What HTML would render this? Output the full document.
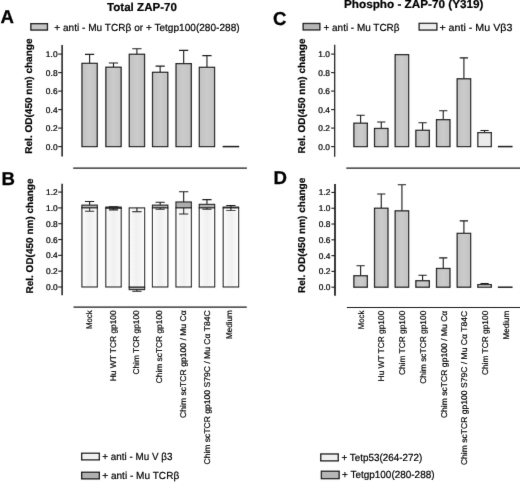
<!DOCTYPE html>
<html><head><meta charset="utf-8"><title>ZAP-70 figure</title>
<style>
html,body{margin:0;padding:0;background:#fff;}
svg{display:block;font-family:"Liberation Sans",sans-serif;text-rendering:geometricPrecision;}
.pl{font-size:187px;font-weight:bold;fill:#000;stroke:#000;stroke-width:3px;}
.tt{font-size:116px;font-weight:bold;fill:#000;stroke:#000;stroke-width:2px;}
.lg{font-size:103px;fill:#000;stroke:#000;stroke-width:2px;}
.tk{font-size:84px;fill:#000;stroke:#000;stroke-width:2.5px;}
.yl{font-size:99px;font-weight:bold;fill:#000;stroke:#000;stroke-width:2px;}
.xl{font-size:83.5px;fill:#000;stroke:#000;stroke-width:2px;}
</style></head><body>
<svg width="520" height="482" viewBox="0 0 520 482">
<defs>
<filter id="bl" x="0" y="0" width="520" height="482" filterUnits="userSpaceOnUse"><feConvolveMatrix order="3" kernelMatrix="0.0049 0.0602 0.0049 0.0602 0.7396 0.0602 0.0049 0.0602 0.0049" divisor="1" edgeMode="duplicate" preserveAlpha="false"/></filter>
<linearGradient id="wg" x1="0" x2="1" y1="0" y2="0"><stop offset="0" stop-color="#fdfdfd"/><stop offset="0.2" stop-color="#f6f6f6"/><stop offset="0.5" stop-color="#f0f0f0"/><stop offset="0.8" stop-color="#f6f6f6"/><stop offset="1" stop-color="#fdfdfd"/></linearGradient>
<linearGradient id="gg" x1="0" x2="1" y1="0" y2="0"><stop offset="0" stop-color="#c2c2c2"/><stop offset="0.5" stop-color="#cbcbcb"/><stop offset="1" stop-color="#c2c2c2"/></linearGradient>
</defs>
<rect width="520" height="482" fill="#fff"/>
<g filter="url(#bl)">
<text transform="translate(0.6 22.5) scale(0.1)" class="pl">A</text>
<text transform="translate(1.4 185) scale(0.1)" class="pl">B</text>
<text transform="translate(273.1 24.8) scale(0.1)" class="pl">C</text>
<text transform="translate(273.4 184.4) scale(0.1)" class="pl">D</text>
<text transform="translate(107 10.8) scale(0.1)" textLength="700" lengthAdjust="spacingAndGlyphs" class="tt">Total ZAP-70</text>
<text transform="translate(344 7.7) scale(0.1)" textLength="1395" lengthAdjust="spacingAndGlyphs" class="tt">Phospho - ZAP-70 (Y319)</text>
<rect x="30.88" y="23.68" width="16.55" height="6.35" fill="#c6c6c6" stroke="#1c1c1c" stroke-width="1.35"/>
<text transform="translate(54.3 30.6) scale(0.1)" textLength="1853" lengthAdjust="spacingAndGlyphs" class="lg">+ anti - Mu TCRβ or + Tetgp100(280-288)</text>
<rect x="303.18" y="23.48" width="16.65" height="6.45" fill="#b6b6b6" stroke="#1c1c1c" stroke-width="1.35"/>
<text transform="translate(323.5 30.6) scale(0.1)" textLength="760" lengthAdjust="spacingAndGlyphs" class="lg">+ anti - Mu TCRβ</text>
<rect x="419.18" y="23.38" width="17.65" height="6.65" fill="#ededed" stroke="#1c1c1c" stroke-width="1.35"/>
<text transform="translate(439.4 30.6) scale(0.1)" textLength="730" lengthAdjust="spacingAndGlyphs" class="lg">+ anti - Mu Vβ3</text>
<line x1="62.1" y1="45" x2="62.1" y2="156.5" stroke="#1c1c1c" stroke-width="1.5"/>
<line x1="58.2" y1="146.6" x2="62.1" y2="146.6" stroke="#1c1c1c" stroke-width="1.1"/>
<text transform="translate(57.55 149.6) scale(0.1)" text-anchor="end" class="tk">0.0</text>
<line x1="58.2" y1="128.1" x2="62.1" y2="128.1" stroke="#1c1c1c" stroke-width="1.1"/>
<text transform="translate(57.55 131.1) scale(0.1)" text-anchor="end" class="tk">0.2</text>
<line x1="58.2" y1="109.6" x2="62.1" y2="109.6" stroke="#1c1c1c" stroke-width="1.1"/>
<text transform="translate(57.55 112.6) scale(0.1)" text-anchor="end" class="tk">0.4</text>
<line x1="58.2" y1="91.1" x2="62.1" y2="91.1" stroke="#1c1c1c" stroke-width="1.1"/>
<text transform="translate(57.55 94.1) scale(0.1)" text-anchor="end" class="tk">0.6</text>
<line x1="58.2" y1="72.6" x2="62.1" y2="72.6" stroke="#1c1c1c" stroke-width="1.1"/>
<text transform="translate(57.55 75.6) scale(0.1)" text-anchor="end" class="tk">0.8</text>
<line x1="58.2" y1="54.1" x2="62.1" y2="54.1" stroke="#1c1c1c" stroke-width="1.1"/>
<text transform="translate(57.55 57.1) scale(0.1)" text-anchor="end" class="tk">1.0</text>
<text transform="translate(32 153.7) rotate(-90) scale(0.1)" textLength="1152" lengthAdjust="spacingAndGlyphs" class="yl">Rel. OD(450 nm) change</text>
<path d="M89.6 63.35V54.38M84.98 54.38H94.22" stroke="#1c1c1c" stroke-width="1.1" fill="none"/>
<rect x="81.97" y="63.35" width="15.25" height="83.25" fill="url(#gg)" stroke="#1c1c1c" stroke-width="1.25"/>
<path d="M113.5 67.23V63.07M108.88 63.07H118.12" stroke="#1c1c1c" stroke-width="1.1" fill="none"/>
<rect x="105.88" y="67.23" width="15.25" height="79.36" fill="url(#gg)" stroke="#1c1c1c" stroke-width="1.25"/>
<path d="M136.9 54.28V48.73M132.28 48.73H141.52" stroke="#1c1c1c" stroke-width="1.1" fill="none"/>
<rect x="129.28" y="54.28" width="15.25" height="92.31" fill="url(#gg)" stroke="#1c1c1c" stroke-width="1.25"/>
<path d="M160.15 72.32V66.12M155.53 66.12H164.77" stroke="#1c1c1c" stroke-width="1.1" fill="none"/>
<rect x="152.53" y="72.32" width="15.25" height="74.28" fill="url(#gg)" stroke="#1c1c1c" stroke-width="1.25"/>
<path d="M183.65 63.63V50.4M179.03 50.4H188.27" stroke="#1c1c1c" stroke-width="1.1" fill="none"/>
<rect x="176.03" y="63.63" width="15.25" height="82.97" fill="url(#gg)" stroke="#1c1c1c" stroke-width="1.25"/>
<path d="M206.95 67.33V55.67M202.33 55.67H211.57" stroke="#1c1c1c" stroke-width="1.1" fill="none"/>
<rect x="199.32" y="67.33" width="15.25" height="79.27" fill="url(#gg)" stroke="#1c1c1c" stroke-width="1.25"/>
<line x1="222.65" y1="146.6" x2="239.15" y2="146.6" stroke="#1c1c1c" stroke-width="1.5"/>
<line x1="73.2" y1="168.1" x2="246.9" y2="168.1" stroke="#1c1c1c" stroke-width="1.2"/>
<line x1="62.1" y1="183.75" x2="62.1" y2="295.3" stroke="#1c1c1c" stroke-width="1.5"/>
<line x1="58.2" y1="287" x2="62.1" y2="287" stroke="#1c1c1c" stroke-width="1.1"/>
<text transform="translate(57.65 290) scale(0.1)" text-anchor="end" class="tk">0.0</text>
<line x1="58.2" y1="271.18" x2="62.1" y2="271.18" stroke="#1c1c1c" stroke-width="1.1"/>
<text transform="translate(57.65 274.18) scale(0.1)" text-anchor="end" class="tk">0.2</text>
<line x1="58.2" y1="255.36" x2="62.1" y2="255.36" stroke="#1c1c1c" stroke-width="1.1"/>
<text transform="translate(57.65 258.36) scale(0.1)" text-anchor="end" class="tk">0.4</text>
<line x1="58.2" y1="239.54" x2="62.1" y2="239.54" stroke="#1c1c1c" stroke-width="1.1"/>
<text transform="translate(57.65 242.54) scale(0.1)" text-anchor="end" class="tk">0.6</text>
<line x1="58.2" y1="223.72" x2="62.1" y2="223.72" stroke="#1c1c1c" stroke-width="1.1"/>
<text transform="translate(57.65 226.72) scale(0.1)" text-anchor="end" class="tk">0.8</text>
<line x1="58.2" y1="207.9" x2="62.1" y2="207.9" stroke="#1c1c1c" stroke-width="1.1"/>
<text transform="translate(57.65 210.9) scale(0.1)" text-anchor="end" class="tk">1.0</text>
<line x1="58.2" y1="192.08" x2="62.1" y2="192.08" stroke="#1c1c1c" stroke-width="1.1"/>
<text transform="translate(57.65 195.08) scale(0.1)" text-anchor="end" class="tk">1.2</text>
<text transform="translate(32.6 293.5) rotate(-90) scale(0.1)" textLength="1150" lengthAdjust="spacingAndGlyphs" class="yl">Rel. OD(450 nm) change</text>
<path d="M89.6 205.13V201.49M84.98 201.49H94.22" stroke="#1c1c1c" stroke-width="1.1" fill="none"/>
<rect x="81.9" y="205.13" width="15.4" height="2.77" fill="#adadad" stroke="#1c1c1c" stroke-width="1.1"/>
<rect x="81.9" y="207.9" width="15.4" height="79.1" fill="url(#wg)" stroke="#1c1c1c" stroke-width="1.1"/>
<path d="M89.6 207.9V211.3M84.98 211.3H94.22" stroke="#1c1c1c" stroke-width="1.1" fill="none"/>
<path d="M113.5 207.11V206.71M108.88 206.71H118.12" stroke="#1c1c1c" stroke-width="1.1" fill="none"/>
<rect x="105.8" y="207.11" width="15.4" height="1.19" fill="#adadad" stroke="#1c1c1c" stroke-width="1.1"/>
<rect x="105.8" y="208.3" width="15.4" height="78.7" fill="url(#wg)" stroke="#1c1c1c" stroke-width="1.1"/>
<path d="M113.5 208.3V209.88M108.88 209.88H118.12" stroke="#1c1c1c" stroke-width="1.1" fill="none"/>
<rect x="129.2" y="287" width="15.4" height="2.6" fill="#adadad" stroke="#1c1c1c" stroke-width="1.1"/>
<path d="M136.9 289.6V291.3M132.28 291.3H141.52" stroke="#1c1c1c" stroke-width="1.1" fill="none"/>
<rect x="129.2" y="207.9" width="15.4" height="79.1" fill="url(#wg)" stroke="#1c1c1c" stroke-width="1.1"/>
<path d="M136.9 207.9V211.62M132.28 211.62H141.52" stroke="#1c1c1c" stroke-width="1.1" fill="none"/>
<path d="M160.15 205.13V202.2M155.53 202.2H164.77" stroke="#1c1c1c" stroke-width="1.1" fill="none"/>
<rect x="152.45" y="205.13" width="15.4" height="2.77" fill="#adadad" stroke="#1c1c1c" stroke-width="1.1"/>
<rect x="152.45" y="207.9" width="15.4" height="79.1" fill="url(#wg)" stroke="#1c1c1c" stroke-width="1.1"/>
<path d="M160.15 207.9V209.24M155.53 209.24H164.77" stroke="#1c1c1c" stroke-width="1.1" fill="none"/>
<path d="M183.65 201.97V191.68M179.03 191.68H188.27" stroke="#1c1c1c" stroke-width="1.1" fill="none"/>
<rect x="175.95" y="201.97" width="15.4" height="5.93" fill="#adadad" stroke="#1c1c1c" stroke-width="1.1"/>
<rect x="175.95" y="207.9" width="15.4" height="79.1" fill="url(#wg)" stroke="#1c1c1c" stroke-width="1.1"/>
<path d="M183.65 207.9V214.07M179.03 214.07H188.27" stroke="#1c1c1c" stroke-width="1.1" fill="none"/>
<path d="M206.95 204.34V199.59M202.33 199.59H211.57" stroke="#1c1c1c" stroke-width="1.1" fill="none"/>
<rect x="199.25" y="204.34" width="15.4" height="3.56" fill="#adadad" stroke="#1c1c1c" stroke-width="1.1"/>
<rect x="199.25" y="207.9" width="15.4" height="79.1" fill="url(#wg)" stroke="#1c1c1c" stroke-width="1.1"/>
<path d="M206.95 207.9V209.24M202.33 209.24H211.57" stroke="#1c1c1c" stroke-width="1.1" fill="none"/>
<path d="M230.9 207.11V205.53M226.28 205.53H235.52" stroke="#1c1c1c" stroke-width="1.1" fill="none"/>
<rect x="223.2" y="207.11" width="15.4" height="0.79" fill="#adadad" stroke="#1c1c1c" stroke-width="1.1"/>
<rect x="223.2" y="207.9" width="15.4" height="79.1" fill="url(#wg)" stroke="#1c1c1c" stroke-width="1.1"/>
<path d="M230.9 207.9V210.51M226.28 210.51H235.52" stroke="#1c1c1c" stroke-width="1.1" fill="none"/>
<line x1="73.5" y1="307.1" x2="246.8" y2="307.1" stroke="#1c1c1c" stroke-width="1.2"/>
<text transform="translate(92.3 310.3) rotate(-90) scale(0.1)" text-anchor="end" textLength="187" lengthAdjust="spacingAndGlyphs" class="xl">Mock</text>
<text transform="translate(115.6 310.3) rotate(-90) scale(0.1)" text-anchor="end" textLength="710" lengthAdjust="spacingAndGlyphs" class="xl">Hu WT TCR gp100</text>
<text transform="translate(138.8 310.3) rotate(-90) scale(0.1)" text-anchor="end" textLength="643" lengthAdjust="spacingAndGlyphs" class="xl">Chim TCR gp100</text>
<text transform="translate(162.2 310.3) rotate(-90) scale(0.1)" text-anchor="end" textLength="730" lengthAdjust="spacingAndGlyphs" class="xl">Chim scTCR gp100</text>
<text transform="translate(186 310.3) rotate(-90) scale(0.1)" text-anchor="end" textLength="1076" lengthAdjust="spacingAndGlyphs" class="xl">Chim scTCR gp100 / Mu Cα</text>
<text transform="translate(209.6 310.3) rotate(-90) scale(0.1)" text-anchor="end" textLength="1542" lengthAdjust="spacingAndGlyphs" class="xl">Chim scTCR gp100 S79C / Mu Cα T84C</text>
<text transform="translate(232 310.3) rotate(-90) scale(0.1)" text-anchor="end" textLength="288" lengthAdjust="spacingAndGlyphs" class="xl">Medium</text>
<rect x="81.67" y="453.28" width="17.65" height="6.55" fill="#f0f0f0" stroke="#1c1c1c" stroke-width="1.35"/>
<text transform="translate(102.2 460.2) scale(0.1)" textLength="702" lengthAdjust="spacingAndGlyphs" class="lg">+ anti - Mu V β3</text>
<rect x="81.67" y="472.28" width="17.65" height="6.55" fill="#b0b0b0" stroke="#1c1c1c" stroke-width="1.35"/>
<text transform="translate(102.2 478.9) scale(0.1)" textLength="770" lengthAdjust="spacingAndGlyphs" class="lg">+ anti - Mu TCRβ</text>
<line x1="334.7" y1="44.75" x2="334.7" y2="156.7" stroke="#1c1c1c" stroke-width="1.25"/>
<line x1="331.1" y1="146.6" x2="334.7" y2="146.6" stroke="#1c1c1c" stroke-width="1.1"/>
<text transform="translate(329.95 149.6) scale(0.1)" text-anchor="end" class="tk">0.0</text>
<line x1="331.1" y1="128.1" x2="334.7" y2="128.1" stroke="#1c1c1c" stroke-width="1.1"/>
<text transform="translate(329.95 131.1) scale(0.1)" text-anchor="end" class="tk">0.2</text>
<line x1="331.1" y1="109.6" x2="334.7" y2="109.6" stroke="#1c1c1c" stroke-width="1.1"/>
<text transform="translate(329.95 112.6) scale(0.1)" text-anchor="end" class="tk">0.4</text>
<line x1="331.1" y1="91.1" x2="334.7" y2="91.1" stroke="#1c1c1c" stroke-width="1.1"/>
<text transform="translate(329.95 94.1) scale(0.1)" text-anchor="end" class="tk">0.6</text>
<line x1="331.1" y1="72.6" x2="334.7" y2="72.6" stroke="#1c1c1c" stroke-width="1.1"/>
<text transform="translate(329.95 75.6) scale(0.1)" text-anchor="end" class="tk">0.8</text>
<line x1="331.1" y1="54.1" x2="334.7" y2="54.1" stroke="#1c1c1c" stroke-width="1.1"/>
<text transform="translate(329.95 57.1) scale(0.1)" text-anchor="end" class="tk">1.0</text>
<text transform="translate(305 153.6) rotate(-90) scale(0.1)" textLength="1151" lengthAdjust="spacingAndGlyphs" class="yl">Rel. OD(450 nm) change</text>
<path d="M360.6 123.2V115.24M356.48 115.24H364.72" stroke="#1c1c1c" stroke-width="1.1" fill="none"/>
<rect x="353.88" y="123.2" width="13.45" height="23.4" fill="url(#gg)" stroke="#1c1c1c" stroke-width="1.25"/>
<path d="M381.26 128.47V121.99M377.14 121.99H385.38" stroke="#1c1c1c" stroke-width="1.1" fill="none"/>
<rect x="374.54" y="128.47" width="13.45" height="18.13" fill="url(#gg)" stroke="#1c1c1c" stroke-width="1.25"/>
<rect x="395.19" y="54.66" width="13.45" height="91.94" fill="url(#gg)" stroke="#1c1c1c" stroke-width="1.25"/>
<path d="M422.58 130.32V122.73M418.46 122.73H426.7" stroke="#1c1c1c" stroke-width="1.1" fill="none"/>
<rect x="415.86" y="130.32" width="13.45" height="16.28" fill="url(#gg)" stroke="#1c1c1c" stroke-width="1.25"/>
<path d="M443.24 119.68V110.71M439.12 110.71H447.36" stroke="#1c1c1c" stroke-width="1.1" fill="none"/>
<rect x="436.51" y="119.68" width="13.45" height="26.92" fill="url(#gg)" stroke="#1c1c1c" stroke-width="1.25"/>
<path d="M463.9 78.8V57.89M459.78 57.89H468.02" stroke="#1c1c1c" stroke-width="1.1" fill="none"/>
<rect x="457.18" y="78.8" width="13.45" height="67.8" fill="url(#gg)" stroke="#1c1c1c" stroke-width="1.25"/>
<path d="M484.56 132.63V130.5M480.44 130.5H488.68" stroke="#1c1c1c" stroke-width="1.1" fill="none"/>
<rect x="477.84" y="132.63" width="13.45" height="13.97" fill="#ebebeb" stroke="#1c1c1c" stroke-width="1.25"/>
<line x1="497.87" y1="146.6" x2="512.57" y2="146.6" stroke="#1c1c1c" stroke-width="1.5"/>
<line x1="346.3" y1="168.1" x2="521" y2="168.1" stroke="#1c1c1c" stroke-width="1.2"/>
<line x1="335" y1="184.1" x2="335" y2="295.7" stroke="#1c1c1c" stroke-width="1.7"/>
<line x1="331.4" y1="287.2" x2="335" y2="287.2" stroke="#1c1c1c" stroke-width="1.1"/>
<text transform="translate(330.45 290.2) scale(0.1)" text-anchor="end" class="tk">0.0</text>
<line x1="331.4" y1="271.41" x2="335" y2="271.41" stroke="#1c1c1c" stroke-width="1.1"/>
<text transform="translate(330.45 274.41) scale(0.1)" text-anchor="end" class="tk">0.2</text>
<line x1="331.4" y1="255.62" x2="335" y2="255.62" stroke="#1c1c1c" stroke-width="1.1"/>
<text transform="translate(330.45 258.62) scale(0.1)" text-anchor="end" class="tk">0.4</text>
<line x1="331.4" y1="239.82" x2="335" y2="239.82" stroke="#1c1c1c" stroke-width="1.1"/>
<text transform="translate(330.45 242.82) scale(0.1)" text-anchor="end" class="tk">0.6</text>
<line x1="331.4" y1="224.03" x2="335" y2="224.03" stroke="#1c1c1c" stroke-width="1.1"/>
<text transform="translate(330.45 227.03) scale(0.1)" text-anchor="end" class="tk">0.8</text>
<line x1="331.4" y1="208.24" x2="335" y2="208.24" stroke="#1c1c1c" stroke-width="1.1"/>
<text transform="translate(330.45 211.24) scale(0.1)" text-anchor="end" class="tk">1.0</text>
<line x1="331.4" y1="192.45" x2="335" y2="192.45" stroke="#1c1c1c" stroke-width="1.1"/>
<text transform="translate(330.45 195.45) scale(0.1)" text-anchor="end" class="tk">1.2</text>
<text transform="translate(305.2 293.1) rotate(-90) scale(0.1)" textLength="1154" lengthAdjust="spacingAndGlyphs" class="yl">Rel. OD(450 nm) change</text>
<path d="M360.6 275.75V265.72M356.48 265.72H364.72" stroke="#1c1c1c" stroke-width="1.1" fill="none"/>
<rect x="353.88" y="275.75" width="13.45" height="11.45" fill="url(#gg)" stroke="#1c1c1c" stroke-width="1.25"/>
<path d="M381.26 208.24V194.03M377.14 194.03H385.38" stroke="#1c1c1c" stroke-width="1.1" fill="none"/>
<rect x="374.54" y="208.24" width="13.45" height="78.96" fill="url(#gg)" stroke="#1c1c1c" stroke-width="1.25"/>
<path d="M401.92 210.85V184.79M397.8 184.79H406.04" stroke="#1c1c1c" stroke-width="1.1" fill="none"/>
<rect x="395.19" y="210.85" width="13.45" height="76.35" fill="url(#gg)" stroke="#1c1c1c" stroke-width="1.25"/>
<path d="M422.58 280.73V275.2M418.46 275.2H426.7" stroke="#1c1c1c" stroke-width="1.1" fill="none"/>
<rect x="415.86" y="280.73" width="13.45" height="6.47" fill="url(#gg)" stroke="#1c1c1c" stroke-width="1.25"/>
<path d="M443.24 268.49V257.83M439.12 257.83H447.36" stroke="#1c1c1c" stroke-width="1.1" fill="none"/>
<rect x="436.51" y="268.49" width="13.45" height="18.71" fill="url(#gg)" stroke="#1c1c1c" stroke-width="1.25"/>
<path d="M463.9 233.35V220.87M459.78 220.87H468.02" stroke="#1c1c1c" stroke-width="1.1" fill="none"/>
<rect x="457.18" y="233.35" width="13.45" height="53.85" fill="url(#gg)" stroke="#1c1c1c" stroke-width="1.25"/>
<path d="M484.56 284.67V283.49M480.44 283.49H488.68" stroke="#1c1c1c" stroke-width="1.1" fill="none"/>
<rect x="477.84" y="284.67" width="13.45" height="2.53" fill="#ebebeb" stroke="#1c1c1c" stroke-width="1.25"/>
<line x1="497.87" y1="287.2" x2="512.57" y2="287.2" stroke="#1c1c1c" stroke-width="1.5"/>
<line x1="346.9" y1="307.5" x2="521" y2="307.5" stroke="#1c1c1c" stroke-width="1.2"/>
<text transform="translate(363.8 310.7) rotate(-90) scale(0.1)" text-anchor="end" textLength="185" lengthAdjust="spacingAndGlyphs" class="xl">Mock</text>
<text transform="translate(384.48 310.7) rotate(-90) scale(0.1)" text-anchor="end" textLength="707" lengthAdjust="spacingAndGlyphs" class="xl">Hu WT TCR gp100</text>
<text transform="translate(405.16 310.7) rotate(-90) scale(0.1)" text-anchor="end" textLength="644" lengthAdjust="spacingAndGlyphs" class="xl">Chim TCR gp100</text>
<text transform="translate(425.84 310.7) rotate(-90) scale(0.1)" text-anchor="end" textLength="730" lengthAdjust="spacingAndGlyphs" class="xl">Chim scTCR gp100</text>
<text transform="translate(446.52 310.7) rotate(-90) scale(0.1)" text-anchor="end" textLength="1074" lengthAdjust="spacingAndGlyphs" class="xl">Chim scTCR gp100 / Mu Cα</text>
<text transform="translate(467.2 310.7) rotate(-90) scale(0.1)" text-anchor="end" textLength="1544" lengthAdjust="spacingAndGlyphs" class="xl">Chim scTCR gp100 S79C / Mu Cα T84C</text>
<text transform="translate(487.88 310.7) rotate(-90) scale(0.1)" text-anchor="end" textLength="644" lengthAdjust="spacingAndGlyphs" class="xl">Chim TCR gp100</text>
<text transform="translate(508.56 310.7) rotate(-90) scale(0.1)" text-anchor="end" textLength="287" lengthAdjust="spacingAndGlyphs" class="xl">Medium</text>
<rect x="320.78" y="453.98" width="17.45" height="6.85" fill="#efefef" stroke="#1c1c1c" stroke-width="1.35"/>
<text transform="translate(341.4 460.5) scale(0.1)" textLength="809" lengthAdjust="spacingAndGlyphs" class="lg">+ Tetp53(264-272)</text>
<rect x="321.38" y="471.28" width="17.75" height="7.35" fill="#b6b6b6" stroke="#1c1c1c" stroke-width="1.35"/>
<text transform="translate(342.1 477.6) scale(0.1)" textLength="924" lengthAdjust="spacingAndGlyphs" class="lg">+ Tetgp100(280-288)</text>
</g>
</svg>
</body></html>
